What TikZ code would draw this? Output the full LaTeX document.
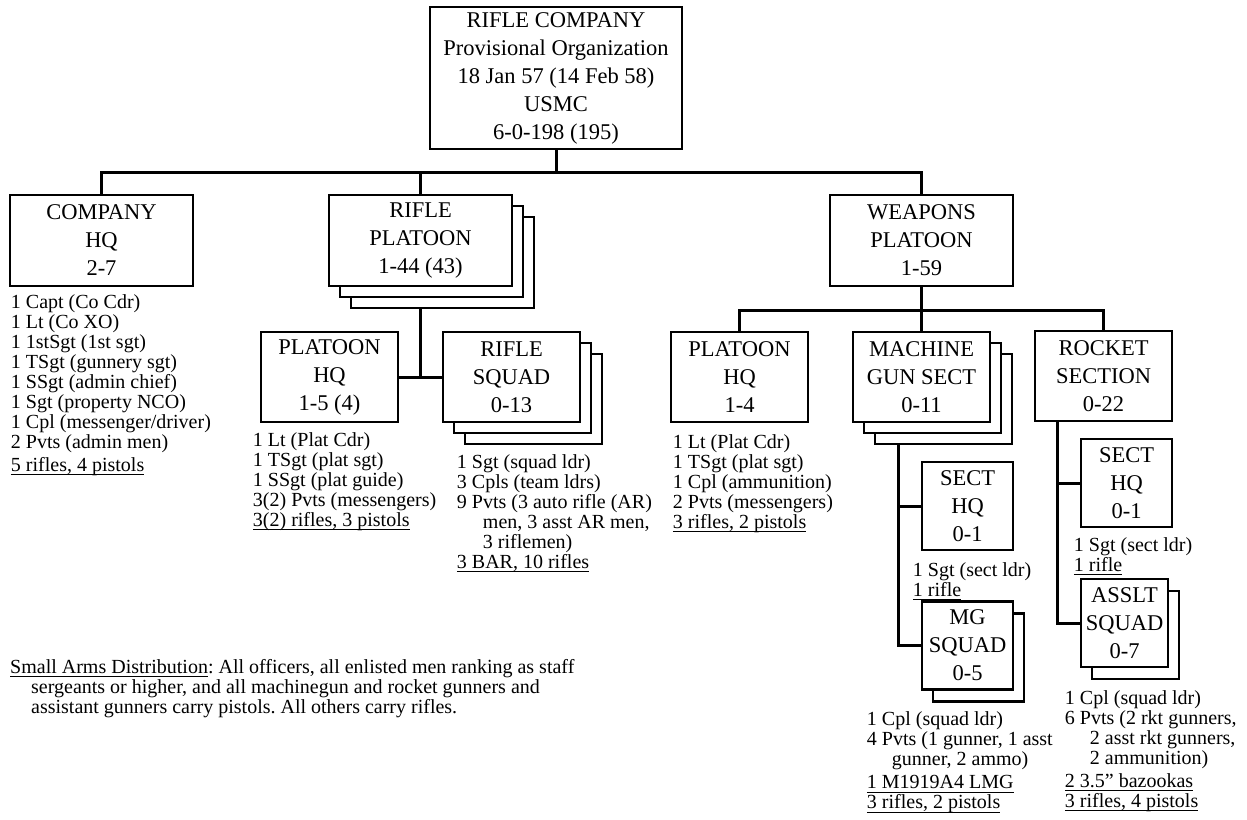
\documentclass[tikz,border=0pt]{standalone}
\usepackage{fontspec}
\setmainfont{Liberation Serif}
\usetikzlibrary{calc,positioning,shadows}

\newcommand{\unitfont}{\fontsize{22.5}{28}\selectfont}
\newcommand{\rosterfont}{\fontsize{20}{20}\selectfont}
\newcommand{\arms}[1]{{\setbox0=\hbox{#1}\rlap{\rule[-4pt]{\wd0}{1pt}}\box0}}
\frenchspacing

\begin{document}
\begin{tikzpicture}[
    x=1pt, y=-1pt,
    unit/.style={draw, line width=2.5pt, fill=white, align=center, font=\unitfont, inner sep=0pt},
    topunit/.style={unit, minimum width=183pt, minimum height=91pt},
    subunit/.style={unit, minimum width=137pt, minimum height=90pt},
    teamunit/.style={unit, minimum width=91pt, minimum height=88pt},
    stacked/.style={copy shadow={shadow xshift=22pt, shadow yshift=-22pt},
                    copy shadow={shadow xshift=11pt, shadow yshift=-11pt}},
    shadowed/.style={copy shadow={shadow xshift=11pt, shadow yshift=-12pt}},
    roster/.style={align=left, font=\rosterfont, inner sep=0pt},
    wire/.style={line width=3pt},
]
\useasboundingbox (0,0) rectangle (1247,819);

% Company
\node[unit, minimum width=252pt, minimum height=142pt] (rco) at (556,78) {
  RIFLE COMPANY\\Provisional Organization\\18 Jan 57 (14 Feb 58)\\USMC\\6-0-198 (195)
};

% First level
\node[topunit] (cohq) at (101.5,240.5) {COMPANY\\HQ\\2-7};
\node[topunit, stacked] (rplt) at (420.5,240.5) {RIFLE\\PLATOON\\1-44 (43)};
\node[topunit] (wplt) at (921.5,240.5) {WEAPONS\\PLATOON\\1-59};

\coordinate (bus) at (556,172);
\draw[wire] (rco.south) -- (bus);
\draw[wire] (cohq.north) |- (bus) -| (wplt.north);
\draw[wire] (rplt.north) -- (rplt.north |- bus);

\node[roster, below right=7pt and 2pt of cohq.south west] (cohqlist) {
  1 Capt (Co Cdr)\\1 Lt (Co XO)\\1 1stSgt (1st sgt)\\1 TSgt (gunnery sgt)\\
  1 SSgt (admin chief)\\1 Sgt (property NCO)\\1 Cpl (messenger/driver)\\
  2 Pvts (admin men)\\[3pt]\arms{5 rifles, 4 pistols}
};

% Rifle platoon
\node[subunit] (plthq) at (329.5,377) {PLATOON\\HQ\\1-5 (4)};
\node[subunit, stacked] (rsqd) at (511.5,377) {RIFLE\\SQUAD\\0-13};

\draw[wire] (plthq.east) -- (rsqd.west);
\draw[wire] ($(rplt.south)+(0,22)$) -- (rplt.south |- rsqd.west);

\node[roster, below right=9pt and -7pt of plthq.south west] (plthqlist) {
  1 Lt (Plat Cdr)\\1 TSgt (plat sgt)\\1 SSgt (plat guide)\\3(2) Pvts (messengers)\\
  \arms{3(2) rifles, 3 pistols}
};
\node[roster, below right=31pt and 15pt of rsqd.south west] (rsqdlist) {
  1 Sgt (squad ldr)\\3 Cpls (team ldrs)\\9 Pvts (3 auto rifle (AR)\\
  \hspace*{26pt}men, 3 asst AR men,\\\hspace*{26pt}3 riflemen)\\
  \arms{3 BAR, 10 rifles}
};

% Weapons platoon
\node[subunit] (wpnhq) at (739.5,377) {PLATOON\\HQ\\1-4};
\node[subunit, stacked] (mgsect) at (921.5,377) {MACHINE\\GUN SECT\\0-11};
\node[subunit] (rktsect) at (1103.5,376) {ROCKET\\SECTION\\0-22};

\coordinate (bus2) at ($(wplt.south)+(0,23)$);
\draw[wire] (wplt.south) -- (mgsect.north);
\draw[wire] (wpnhq.north) |- (bus2) -| (rktsect.north);

\node[roster, below right=11pt and 3pt of wpnhq.south west] (wpnhqlist) {
  1 Lt (Plat Cdr)\\1 TSgt (plat sgt)\\1 Cpl (ammunition)\\2 Pvts (messengers)\\
  \arms{3 rifles, 2 pistols}
};

% Machine gun section
\node[teamunit] (mghq) at (967.5,506) {SECT\\HQ\\0-1};
\node[teamunit, shadowed] (mgsqd) at (967.5,645.5) {MG\\SQUAD\\0-5};

\coordinate (mgline) at ($(mgsect.south west)+(47,22)$);
\draw[wire] (mgline) |- (mgsqd.west);
\draw[wire] (mghq.west) -- (mghq.west -| mgline);

\node[roster, below right=11pt and -8pt of mghq.south west] (mghqlist) {
  1 Sgt (sect ldr)\\\arms{1 rifle}
};
\node[roster, below right=21pt and -54pt of mgsqd.south west] (mgsqdlist) {
  1 Cpl (squad ldr)\\4 Pvts (1 gunner, 1 asst\\\hspace*{25pt}gunner, 2 ammo)\\[3pt]
  \arms{1 M1919A4 LMG}\\\arms{3 rifles, 2 pistols}
};

% Rocket section
\node[teamunit] (rkthq) at (1126.5,483) {SECT\\HQ\\0-1};
\node[teamunit, shadowed, minimum width=87pt] (asqd) at (1124.5,623) {ASSLT\\SQUAD\\0-7};

\coordinate (rktline) at ($(rktsect.south west)+(24,0)$);
\draw[wire] (rktline) |- (asqd.west);
\draw[wire] (rkthq.west) -- (rkthq.west -| rktline);

\node[roster, below right=9pt and -6pt of rkthq.south west] (rkthqlist) {
  1 Sgt (sect ldr)\\\arms{1 rifle}
};
\node[roster, below right=22pt and -15pt of asqd.south west] (asqdlist) {
  1 Cpl (squad ldr)\\6 Pvts (2 rkt gunners,\\\hspace*{25pt}2 asst rkt gunners,\\
  \hspace*{25pt}2 ammunition)\\[3pt]\arms{2 3.5” bazookas}\\\arms{3 rifles, 4 pistols}
};

% Note
\node[roster, anchor=north west] (armsnote) at (10,659) {
  \arms{Small Arms Distribution}: All officers, all enlisted men ranking as staff\\
  \hspace*{21pt}sergeants or higher, and all machinegun and rocket gunners and\\
  \hspace*{21pt}assistant gunners carry pistols. All others carry rifles.
};

\end{tikzpicture}
\end{document}
